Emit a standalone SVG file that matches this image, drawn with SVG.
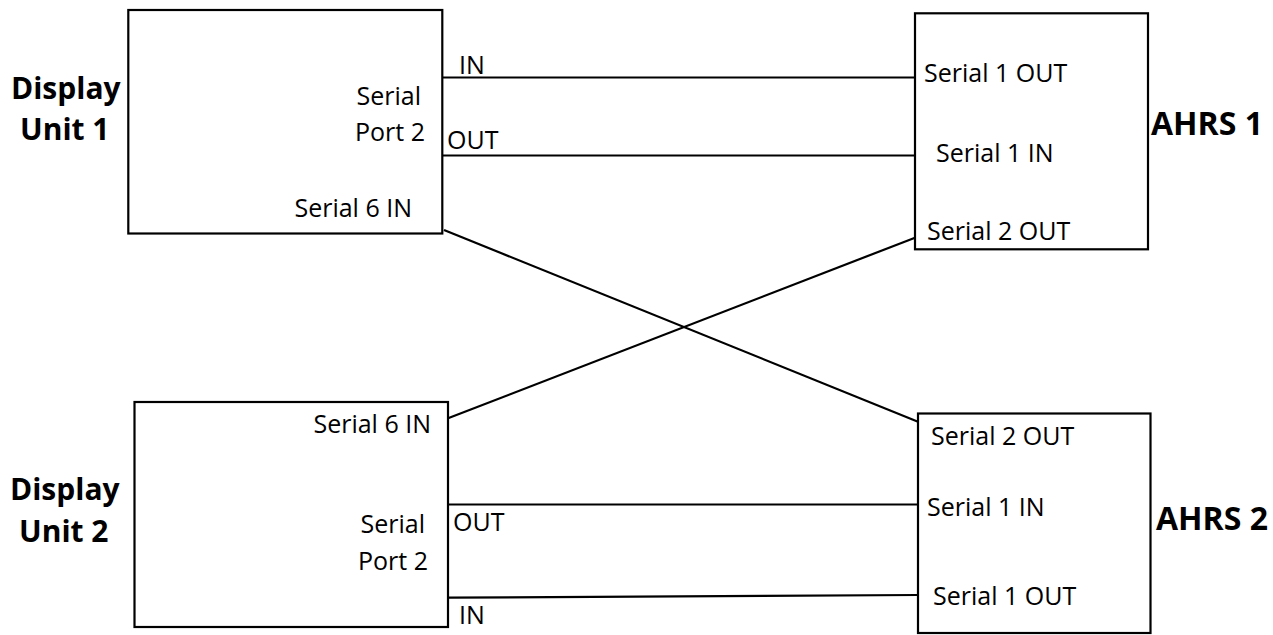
<svg xmlns="http://www.w3.org/2000/svg" width="1273" height="635" viewBox="0 0 1273 635">
<style>
.box{fill:#fff;stroke:#000;stroke-width:2.2}
.wire{stroke:#000;stroke-width:2.2;fill:none}
.t{font-family:"Open Sans","Noto Sans","Liberation Sans",sans-serif;font-size:25px;fill:#000}
.b{font-family:"Open Sans","Noto Sans","Liberation Sans",sans-serif;font-size:30px;font-weight:bold;fill:#000}
.a{font-size:32px}
.e{text-anchor:end}
</style>
<rect width="1273" height="635" fill="#fff"/>
<g id="connectors">
<line class="wire" x1="443" y1="77.5" x2="916" y2="77.5"/>
<line class="wire" x1="443" y1="155.5" x2="916" y2="155.5"/>
<line class="wire" x1="444" y1="230" x2="918" y2="421.7"/>
<line class="wire" x1="448" y1="418.3" x2="915" y2="237.7"/>
<line class="wire" x1="449" y1="504.5" x2="918" y2="504.5"/>
<line class="wire" x1="449" y1="597.7" x2="918" y2="595"/>
</g>
<g id="display-unit-1">
<rect class="box" x="128.3" y="10" width="314" height="223.5"/>
<text class="b" x="11" y="99">Display</text>
<text class="b" x="20" y="140">Unit 1</text>
<text class="t e" x="421" y="105">Serial</text>
<text class="t e" x="425" y="141">Port 2</text>
<text class="t e" x="412" y="217">Serial 6 IN</text>
<text class="t" x="459" y="74">IN</text>
<text class="t" x="447" y="149">OUT</text>
</g>
<g id="ahrs-1">
<rect class="box" x="915" y="13.3" width="233" height="236"/>
<text class="t" x="924" y="82">Serial 1 OUT</text>
<text class="t" x="936" y="162">Serial 1 IN</text>
<text class="t" x="927" y="240">Serial 2 OUT</text>
<text class="b a" x="1151" y="135">AHRS 1</text>
</g>
<g id="display-unit-2">
<rect class="box" x="134.5" y="402" width="313.5" height="225"/>
<text class="b" x="10" y="500">Display</text>
<text class="b" x="19" y="542">Unit 2</text>
<text class="t e" x="431" y="433">Serial 6 IN</text>
<text class="t e" x="425" y="533">Serial</text>
<text class="t e" x="428" y="570">Port 2</text>
<text class="t" x="453" y="531">OUT</text>
<text class="t" x="459" y="624">IN</text>
</g>
<g id="ahrs-2">
<rect class="box" x="918" y="413.5" width="232.5" height="219.5"/>
<text class="t" x="931" y="445">Serial 2 OUT</text>
<text class="t" x="927" y="516">Serial 1 IN</text>
<text class="t" x="933" y="605">Serial 1 OUT</text>
<text class="b a" x="1156" y="530">AHRS 2</text>
</g>
</svg>
